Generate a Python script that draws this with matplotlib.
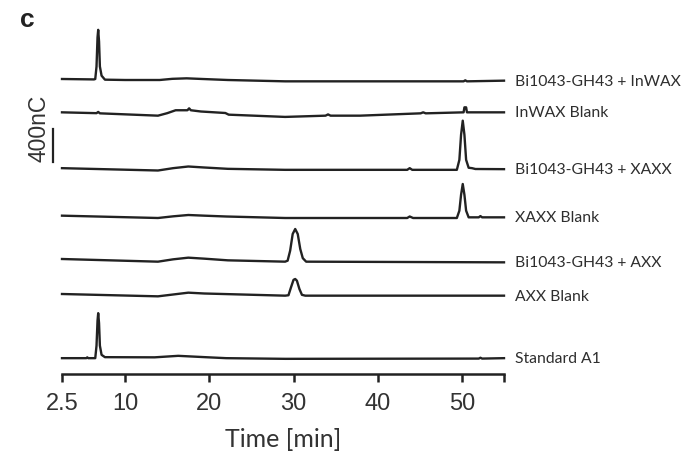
import matplotlib
matplotlib.use("Agg")
import matplotlib.pyplot as plt

# chromatogram traces, top to bottom: time [min] and signal [nC] relative to start
names = ["Bi1043-GH43 + InWAX", "InWAX Blank", "Bi1043-GH43 + XAXX", "XAXX Blank",
         "Bi1043-GH43 + AXX", "AXX Blank", "Standard A1"]
offsets = [3540, 3140, 2470, 1900, 1380, 960, 190]

t_inwax = [2.5, 6.3, 6.45, 6.6, 6.72, 6.8, 6.9, 7.0, 7.2, 7.6, 10, 14.1, 15.6, 17.3, 19.2, 22.2, 29, 40,
           50.2, 50.4, 50.6, 55]
s_inwax = [0, -5, 0, 150, 500, 590, 450, 150, 40, -8, -12, -12, 2, 8, 0, -12, -28, -28,
           -28, -16, -28, -20]

t_inwax_blank = [2.5, 6.6, 6.8, 7.0, 13.9, 15.0, 16.0, 17.4, 17.6, 17.8, 19.0, 21.9, 22.3, 29, 33.8, 34.1, 34.4,
                 37.9, 45.1, 45.4, 45.7, 50.2, 50.3, 50.5, 50.6, 55]
s_inwax_blank = [0, -10, 5, -12, -40, -10, 25, 25, 48, 25, 10, -8, -28, -55, -40, -25, -40,
                 -40, -12, 0, -12, 0, 60, 60, 0, 0]

t_xaxx = [2.5, 13.9, 15.7, 17.5, 19.4, 22.2, 29, 43.5, 43.8, 44.1, 49.4, 49.7, 49.9, 50.1, 50.3, 50.5,
          50.8, 51.2, 51.6, 55]
s_xaxx = [0, -28, 0, 20, 8, -8, -20, -20, 0, -20, -20, 100, 400, 570, 400, 100,
          5, 0, -10, -12]

t_xaxx_blank = [2.5, 13.9, 15.7, 17.5, 19.4, 22, 29, 43.5, 43.8, 44.2, 49.4, 49.7, 49.9, 50.1, 50.3, 50.5,
                50.8, 52.0, 52.2, 52.4, 55]
s_xaxx_blank = [0, -28, -8, 8, 0, -10, -28, -28, -10, -28, -28, 60, 250, 380, 250, 60,
                -20, -20, -5, -20, -20]

t_axx = [2.5, 13.9, 15.7, 17.5, 19.4, 22.2, 29, 29.3, 29.6, 29.9, 30.2, 30.5, 30.8, 31.1, 31.5, 55]
s_axx = [0, -32, -4, 16, 4, -16, -32, -20, 100, 300, 360, 300, 120, 10, -32, -40]

t_axx_blank = [2.5, 13.9, 15.7, 17.5, 19.4, 29, 29.4, 29.7, 30.0, 30.2, 30.4, 30.7, 31.0, 31.4, 55]
s_axx_blank = [0, -28, -6, 16, 6, -20, -15, 80, 170, 180, 160, 60, -10, -20, -20]

t_std = [2.5, 5.4, 5.5, 5.6, 6.45, 6.6, 6.72, 6.8, 6.9, 7.0, 7.2, 7.6, 13.5, 16.3, 19.5, 22, 29,
         52, 52.2, 52.4, 55]
s_std = [0, 0, 10, 0, 0, 150, 450, 540, 420, 150, 40, 12, 10, 28, 12, 0, -8,
         -5, 5, -5, 0]

times = [t_inwax, t_inwax_blank, t_xaxx, t_xaxx_blank, t_axx, t_axx_blank, t_std]
signals = [s_inwax, s_inwax_blank, s_xaxx, s_xaxx_blank, s_axx, s_axx_blank, s_std]

xticks = [2.5, 10, 20, 30, 40, 50, 55]
xticklabels = ["2.5", "10", "20", "30", "40", "50", ""]

ink = "#222222"
label_font = ["Lato", "DejaVu Sans"]

fig = plt.figure(figsize=(6.86, 4.56), dpi=100)
ax = fig.add_axes([62 / 686, 81 / 456, 442 / 686, 355 / 456])

for name, off, t, s in zip(names, offsets, times, signals):
    y = [off + v for v in s]
    ax.plot(t, y, color=ink, lw=1.7, solid_joinstyle="round", clip_on=False)
    ax.annotate(name, xy=(55, y[-1]), xytext=(8, 0), textcoords="offset points",
                va="center", ha="left", fontsize=11.3, family=label_font, color="#2e2e2e",
                annotation_clip=False)

ax.set_xlim(2.5, 55)
ax.set_ylim(0, 4260)
for side in ["left", "right", "top"]:
    ax.spines[side].set_visible(False)
ax.spines["bottom"].set_linewidth(1.8)
ax.spines["bottom"].set_color(ink)
ax.set_yticks([])
ax.set_xticks(xticks)
ax.set_xticklabels(xticklabels, family="Liberation Sans", fontsize=17, color="#333333")
ax.tick_params(axis="x", length=6, width=1.8, color=ink, pad=7)
ax.set_xlabel("Time [min]", family=label_font, fontsize=18, color="#333333", labelpad=9)

# 400 nC scale bar
ax.plot([1.43, 1.43], [2540, 2940], color=ink, lw=1.6, clip_on=False)
fig.text(38.5 / 686, 1 - 128 / 456, "400nC", rotation=90, ha="center", va="center",
         family="Liberation Sans", fontsize=16.5, color="#333333")

fig.text(27 / 686, 1 - 20 / 456, "c", ha="center", va="center", family="Liberation Sans",
         fontsize=19, fontweight="bold", color="#222222")

fig.savefig("out.png", dpi=100)
